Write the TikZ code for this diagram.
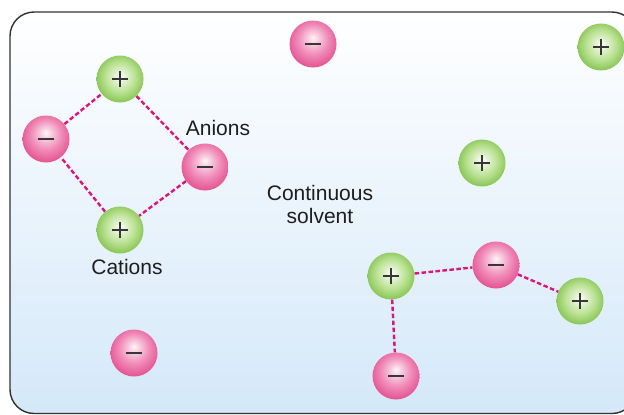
\documentclass[tikz,border=0pt]{standalone}
\usepackage{fontspec}
\setmainfont{Liberation Sans}
\definecolor{pinkedge}{RGB}{228,82,146}
\definecolor{pinkmid}{RGB}{240,140,185}
\definecolor{greenedge}{RGB}{138,198,88}
\definecolor{greenmid}{RGB}{185,225,145}
\definecolor{dashcol}{RGB}{222,20,122}
\definecolor{signcol}{RGB}{55,55,55}
\definecolor{bgbot}{RGB}{212,232,249}
\definecolor{framecol}{RGB}{50,50,50}
\definecolor{textcol}{RGB}{30,30,30}
\pgfdeclareradialshading{pinkball}{\pgfpoint{0bp}{7bp}}{color(0bp)=(white!92!pinkmid); color(5bp)=(white!60!pinkmid); color(16bp)=(pinkmid); color(28bp)=(pinkedge); color(50bp)=(pinkedge)}
\pgfdeclareradialshading{greenball}{\pgfpoint{0bp}{3bp}}{color(0bp)=(white!95!greenmid); color(5bp)=(white!65!greenmid); color(16bp)=(greenmid); color(26bp)=(greenedge); color(50bp)=(greenedge)}
\begin{document}
\begin{tikzpicture}[x=1pt,y=-1pt,
  ion/.style={circle, minimum size=47pt, inner sep=0pt},
  cation/.style={ion, shading=greenball,
    path picture={\draw[signcol,line width=1.7pt]
      ([xshift=-8pt]path picture bounding box.center) -- ([xshift=8pt]path picture bounding box.center)
      ([yshift=-8pt]path picture bounding box.center) -- ([yshift=8pt]path picture bounding box.center);}},
  anion/.style={ion, shading=pinkball,
    path picture={\draw[signcol,line width=1.7pt]
      ([xshift=-8pt]path picture bounding box.center) -- ([xshift=8pt]path picture bounding box.center);}},
  bond/.style={dashcol, line width=2.4pt, dash pattern=on 4.5pt off 2.5pt},
  lbl/.style={text=textcol, font=\fontsize{21}{23}\selectfont, inner sep=0pt, align=center}
]
\useasboundingbox (0,0) rectangle (624,415);
\draw[framecol, line width=1.4pt, rounded corners=24pt, top color=white, bottom color=bgbot]
  (10,12) rectangle (636,413.5);

% ions
\node[cation] (c1) at (120,79) {};
\node[anion]  (a1) at (46,139) {};
\node[anion]  (a2) at (205,167) {};
\node[cation] (c2) at (120,230) {};
\node[anion]  (a3) at (313,44) {};
\node[cation] (c3) at (601,47) {};
\node[cation] (c4) at (482,163) {};
\node[cation] (c5) at (391,276) {};
\node[anion]  (a4) at (496,265) {};
\node[cation] (c6) at (580,301) {};
\node[anion]  (a5) at (396,376) {};
\node[anion]  (a6) at (134,353) {};

% bonds
\draw[bond] (a1) -- (c1);
\draw[bond] (c1) -- (a2);
\draw[bond] (a2) -- (c2);
\draw[bond] (c2) -- (a1);
\draw[bond] (c5) -- (a4);
\draw[bond] (a4) -- (c6);
\draw[bond] (c5) -- (a5);

% labels
\node[lbl] (anions) at (218,128) {Anions};
\node[lbl] (cations) at (127,267) {Cations};
\node[lbl] (solvent) at (320,204) {Continuous\\solvent};
\end{tikzpicture}
\end{document}
